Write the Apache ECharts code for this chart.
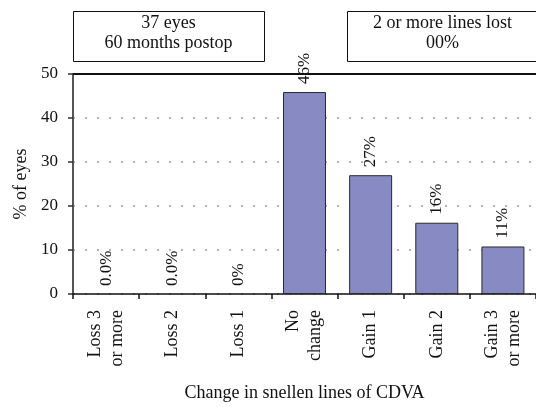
<!DOCTYPE html>
<html>
<head>
<meta charset="utf-8">
<script src="https://cdn.jsdelivr.net/npm/echarts@6/dist/echarts.min.js"></script>
<style>
  html, body { margin: 0; padding: 0; background: #fff; }
  #chart { width: 536px; height: 407px; }
</style>
</head>
<body>
<div id="chart"></div>
<script>
// categories and values
var categories = ["Loss 3\nor more", "Loss 2", "Loss 1", "No\nchange", "Gain 1", "Gain 2", "Gain 3\nor more"];
var percentEyes = [0, 0, 0, 45.9, 27.0, 16.2, 10.8];
var barLabels = ["0.0%", "0.0%", "0%", "46%", "27%", "16%", "11%"];
var yTicks = [0, 10, 20, 30, 40, 50];
var boxTexts = ["37 eyes\n60 months postop", "2 or more lines lost\n00%"];

var serif = "'Liberation Serif', 'Times New Roman', serif";
var chart = echarts.init(document.getElementById("chart"));

// zero bars get no outline so they don't thicken the axis line
var barData = percentEyes.map(function (v) {
  return v === 0 ? { value: v, itemStyle: { borderWidth: 0 } } : v;
});

var option = {
  backgroundColor: "#fff",
  animation: false,
  grid: { left: 73, top: 74, width: 467, height: 225 },
  graphic: [
    {
      type: "rect", left: 73, top: 11,
      shape: { width: 191, height: 50 },
      style: { fill: "#fff", stroke: "#111", lineWidth: 1 }
    },
    {
      type: "text", x: 168.5, y: 33.5,
      style: {
        text: boxTexts[0], fill: "#111", font: "18px " + serif,
        align: "center", verticalAlign: "middle", lineHeight: 20
      }
    },
    {
      type: "rect", left: 347, top: 11,
      shape: { width: 191, height: 50 },
      style: { fill: "#fff", stroke: "#111", lineWidth: 1 }
    },
    {
      type: "text", x: 442.5, y: 33.5,
      style: {
        text: boxTexts[1], fill: "#111", font: "18px " + serif,
        align: "center", verticalAlign: "middle", lineHeight: 20
      }
    }
  ],
  xAxis: {
    type: "category",
    data: categories,
    name: "Change in snellen lines of CDVA",
    nameLocation: "middle",
    nameGap: 90,
    nameTextStyle: { fontFamily: serif, fontSize: 18, color: "#111" },
    axisLine: { lineStyle: { color: "#111", width: 1.5 } },
    axisTick: { show: true, length: 5, lineStyle: { color: "#111", width: 1.5 } },
    axisLabel: {
      rotate: 90, margin: 16, interval: 0,
      fontFamily: serif, fontSize: 18, color: "#111", lineHeight: 22
    }
  },
  yAxis: {
    type: "value",
    min: yTicks[0],
    max: yTicks[yTicks.length - 1],
    interval: 10,
    name: "% of eyes",
    nameLocation: "middle",
    nameGap: 41,
    nameTextStyle: { fontFamily: serif, fontSize: 18, color: "#111" },
    axisLine: { show: true, lineStyle: { color: "#555", width: 2 } },
    axisTick: { show: true, length: 5, lineStyle: { color: "#333", width: 1.5 } },
    axisLabel: { margin: 15, fontFamily: serif, fontSize: 17, color: "#111" },
    splitLine: {
      show: true,
      lineStyle: { color: "#999", width: 1.5, type: [2, 10] }
    }
  },
  series: [
    {
      type: "bar",
      data: barData,
      barCategoryGap: "35%",
      itemStyle: { color: "#878ac3", borderColor: "#2a2a2a", borderWidth: 1 },
      label: {
        show: true,
        position: "top",
        rotate: 90,
        align: "left",
        verticalAlign: "middle",
        distance: 8,
        fontFamily: serif,
        fontSize: 17,
        color: "#111",
        formatter: function (p) { return barLabels[p.dataIndex]; }
      },
      markLine: {
        silent: true,
        symbol: "none",
        label: { show: false },
        lineStyle: { color: "#111", width: 2, type: "solid" },
        data: [{ yAxis: yTicks[yTicks.length - 1] }]
      }
    }
  ]
};

chart.setOption(option);
</script>
</body>
</html>
